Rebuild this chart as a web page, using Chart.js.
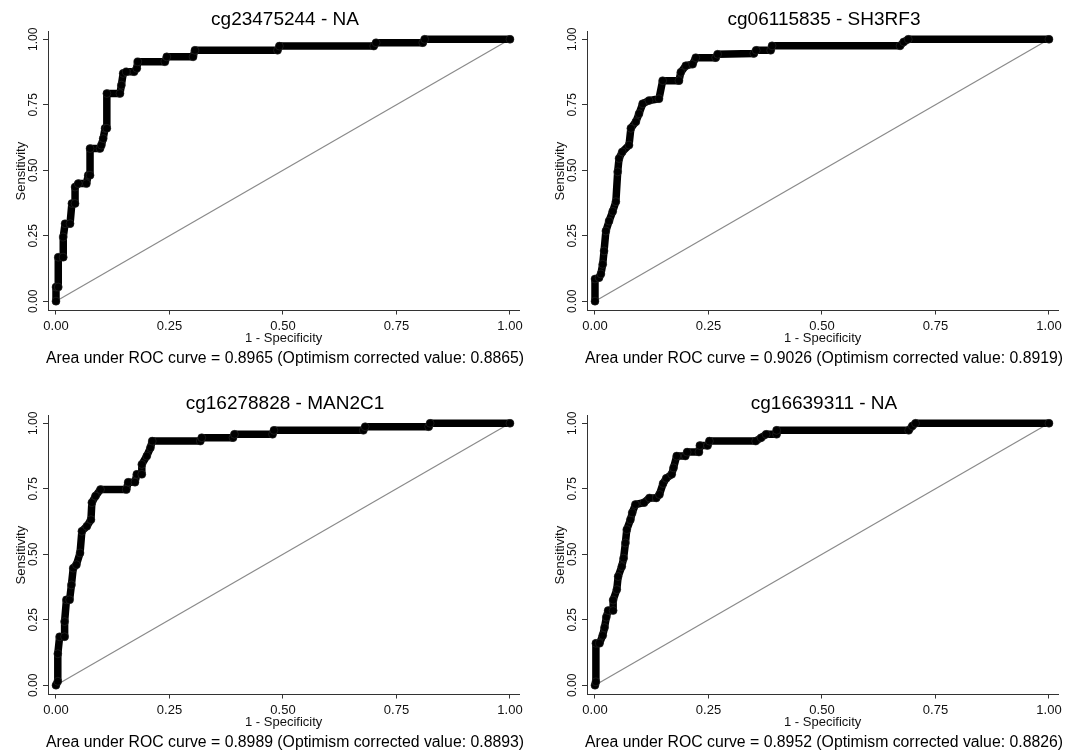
<!DOCTYPE html>
<html>
<head>
<meta charset="utf-8">
<title>ROC curves</title>
<script src="https://cdn.jsdelivr.net/npm/chart.js@4/dist/chart.umd.min.js"></script>
<style>
    html, body {
        margin: 0;
        padding: 0;
        width: 1079px;
        height: 752px;
        overflow: hidden;
        background: #fff;
    }
    canvas {
        position: absolute;
    }
</style>
</head>
<body>
<canvas id="roc1" width="570" height="368" style="left:0px;top:0px"></canvas>
<canvas id="roc2" width="570" height="368" style="left:539px;top:0px"></canvas>
<canvas id="roc3" width="570" height="368" style="left:0px;top:384px"></canvas>
<canvas id="roc4" width="570" height="368" style="left:539px;top:384px"></canvas>
<script>
// ------------------------------------------------------------
// data
// ------------------------------------------------------------

const titles = [
    "cg23475244 - NA",
    "cg06115835 - SH3RF3",
    "cg16278828 - MAN2C1",
    "cg16639311 - NA"
];

const aucValues = ["0.8965", "0.9026", "0.8989", "0.8952"];
const aucCorrected = ["0.8865", "0.8919", "0.8893", "0.8826"];

const axisTicks = [0, 0.25, 0.5, 0.75, 1];

const refLineX = [0, 1];
const refLineY = [0, 1];

// cg23475244
const fpr1 = [0, 0, 0.005, 0.005, 0.016, 0.016, 0.02, 0.031, 0.035, 0.042, 0.042, 0.049, 0.067, 0.071, 0.075, 0.075,
    0.097, 0.1, 0.104, 0.108, 0.112, 0.112, 0.141, 0.144, 0.148, 0.155, 0.172, 0.178, 0.18, 0.24, 0.244, 0.302,
    0.306, 0.488, 0.492, 0.70, 0.705, 0.808, 0.812, 1];
const tpr1 = [0, 0.054, 0.054, 0.168, 0.168, 0.245, 0.296, 0.296, 0.373, 0.373, 0.436, 0.449, 0.449, 0.481, 0.481, 0.583,
    0.583, 0.596, 0.621, 0.66, 0.66, 0.793, 0.793, 0.825, 0.87, 0.876, 0.876, 0.889, 0.914, 0.914, 0.933, 0.933,
    0.958, 0.958, 0.974, 0.974, 0.987, 0.987, 1, 1];

// cg06115835
const fpr2 = [0, 0, 0.009, 0.013, 0.017, 0.02, 0.024, 0.031, 0.039, 0.046, 0.05, 0.053, 0.06, 0.075, 0.079, 0.09,
    0.097, 0.105, 0.119, 0.141, 0.149, 0.185, 0.189, 0.2, 0.215, 0.222, 0.266, 0.27, 0.35, 0.355, 0.387, 0.39,
    0.672, 0.68, 0.69, 1];
const tpr2 = [0, 0.085, 0.09, 0.104, 0.141, 0.192, 0.268, 0.306, 0.343, 0.38, 0.494, 0.545, 0.57, 0.596, 0.66, 0.685,
    0.716, 0.754, 0.766, 0.773, 0.842, 0.842, 0.874, 0.899, 0.905, 0.93, 0.93, 0.943, 0.946, 0.958, 0.958, 0.975,
    0.975, 0.99, 1, 1];

// cg16278828
const fpr3 = [0, 0.004, 0.004, 0.008, 0.019, 0.019, 0.023, 0.03, 0.034, 0.038, 0.045, 0.053, 0.057, 0.068, 0.077, 0.079,
    0.087, 0.098, 0.155, 0.159, 0.174, 0.178, 0.189, 0.189, 0.2, 0.208, 0.212, 0.318, 0.321, 0.39, 0.393, 0.477,
    0.48, 0.677, 0.681, 0.821, 0.824, 1];
const tpr3 = [0, 0.015, 0.12, 0.185, 0.185, 0.243, 0.326, 0.326, 0.383, 0.447, 0.46, 0.505, 0.588, 0.607, 0.632, 0.697,
    0.722, 0.747, 0.747, 0.775, 0.775, 0.805, 0.805, 0.843, 0.875, 0.907, 0.932, 0.932, 0.945, 0.945, 0.958, 0.958,
    0.973, 0.973, 0.987, 0.987, 1, 1];

// cg16639311
const fpr4 = [0, 0.002, 0.002, 0.01, 0.017, 0.021, 0.025, 0.029, 0.04, 0.04, 0.048, 0.051, 0.059, 0.063, 0.067, 0.07,
    0.078, 0.082, 0.089, 0.108, 0.12, 0.135, 0.142, 0.15, 0.157, 0.169, 0.173, 0.18, 0.199, 0.203, 0.229, 0.231,
    0.248, 0.252, 0.354, 0.366, 0.377, 0.4, 0.4, 0.691, 0.699, 0.706, 1];
const tpr4 = [0, 0.013, 0.16, 0.16, 0.19, 0.22, 0.26, 0.285, 0.285, 0.325, 0.365, 0.415, 0.453, 0.485, 0.543, 0.594,
    0.632, 0.658, 0.69, 0.697, 0.715, 0.715, 0.728, 0.77, 0.79, 0.805, 0.83, 0.875, 0.875, 0.89, 0.89, 0.915,
    0.915, 0.932, 0.932, 0.945, 0.958, 0.958, 0.973, 0.973, 0.99, 1, 1];

const fprList = [fpr1, fpr2, fpr3, fpr4];
const tprList = [tpr1, tpr2, tpr3, tpr4];

// ------------------------------------------------------------
// chart setup
// ------------------------------------------------------------

const FONT = "'Liberation Sans', Arial, Helvetica, sans-serif";
const AXIS_COLOR = "#333";

function toPoints(xs, ys) {
    return xs.map((x, i) => ({ x: x, y: ys[i] }));
}

function setTicks(scale) {
    scale.ticks = axisTicks.map(v => ({ value: v }));
}

function renderRocPanel(canvasId, idx) {

    const canvas = document.getElementById(canvasId);
    if (!canvas) return;

    return new Chart(canvas, {
        type: "scatter",
        data: {
            datasets: [
                {
                    data: toPoints(fprList[idx], tprList[idx]),
                    showLine: true,
                    borderColor: "#000",
                    borderWidth: 7.5,
                    borderJoinStyle: "round",
                    borderCapStyle: "round",
                    pointRadius: 4,
                    pointBackgroundColor: "#000",
                    pointBorderColor: "#333",
                    pointBorderWidth: 0.5,
                    clip: false
                },
                {
                    data: toPoints(refLineX, refLineY),
                    showLine: true,
                    borderColor: "#8a8a8a",
                    borderWidth: 1.2,
                    pointRadius: 0,
                    clip: false
                }
            ]
        },
        options: {
            responsive: false,
            animation: false,
            events: [],
            layout: {
                padding: 0
            },
            plugins: {
                legend: { display: false },
                tooltip: { enabled: false },
                title: {
                    display: true,
                    text: titles[idx],
                    color: "#000",
                    font: { family: FONT, size: 19, weight: "normal" },
                    padding: { top: 8.6, bottom: 0.3 }
                },
                subtitle: {
                    display: true,
                    position: "bottom",
                    text: "Area under ROC curve = " + aucValues[idx] +
                        " (Optimism corrected value: " + aucCorrected[idx] + ")",
                    color: "#000",
                    font: { family: FONT, size: 15.8, weight: "normal" },
                    padding: { top: 1.5, bottom: 0 }
                }
            },
            scales: {
                x: {
                    type: "linear",
                    min: -0.0176,
                    max: 1.0205,
                    afterBuildTicks: setTicks,
                    afterFit: s => { s.height = 37; },
                    border: { display: true, color: AXIS_COLOR, width: 1 },
                    grid: {
                        drawOnChartArea: false,
                        drawTicks: true,
                        tickLength: 4,
                        color: AXIS_COLOR
                    },
                    ticks: {
                        color: "#111",
                        padding: 4,
                        maxRotation: 0,
                        font: { family: FONT, size: 13 },
                        callback: v => Number(v).toFixed(2)
                    },
                    title: {
                        display: true,
                        text: "1 - Specificity",
                        color: "#111",
                        font: { family: FONT, size: 13 },
                        padding: { top: 0, bottom: 1.2 }
                    }
                },
                y: {
                    type: "linear",
                    min: -0.0356,
                    max: 1.029,
                    afterBuildTicks: setTicks,
                    afterFit: s => { s.width = 48; },
                    border: { display: true, color: AXIS_COLOR, width: 1 },
                    grid: {
                        drawOnChartArea: false,
                        drawTicks: true,
                        tickLength: 5,
                        color: AXIS_COLOR
                    },
                    ticks: {
                        color: "#111",
                        padding: -2,
                        minRotation: 90,
                        maxRotation: 90,
                        crossAlign: "center",
                        font: { family: FONT, size: 12 },
                        callback: v => Number(v).toFixed(2)
                    },
                    title: {
                        display: true,
                        text: "Sensitivity",
                        color: "#111",
                        font: { family: FONT, size: 13 },
                        padding: { top: 13.2, bottom: 0 }
                    }
                },
                // empty right-hand margin so titles stay centred on the canvas
                yMargin: {
                    type: "linear",
                    position: "right",
                    display: true,
                    afterFit: s => { s.width = 50.7; },
                    border: { display: false },
                    grid: { display: false },
                    ticks: { display: false }
                }
            }
        }
    });
}

["roc1", "roc2", "roc3", "roc4"].forEach((id, i) => renderRocPanel(id, i));
</script>
</body>
</html>
